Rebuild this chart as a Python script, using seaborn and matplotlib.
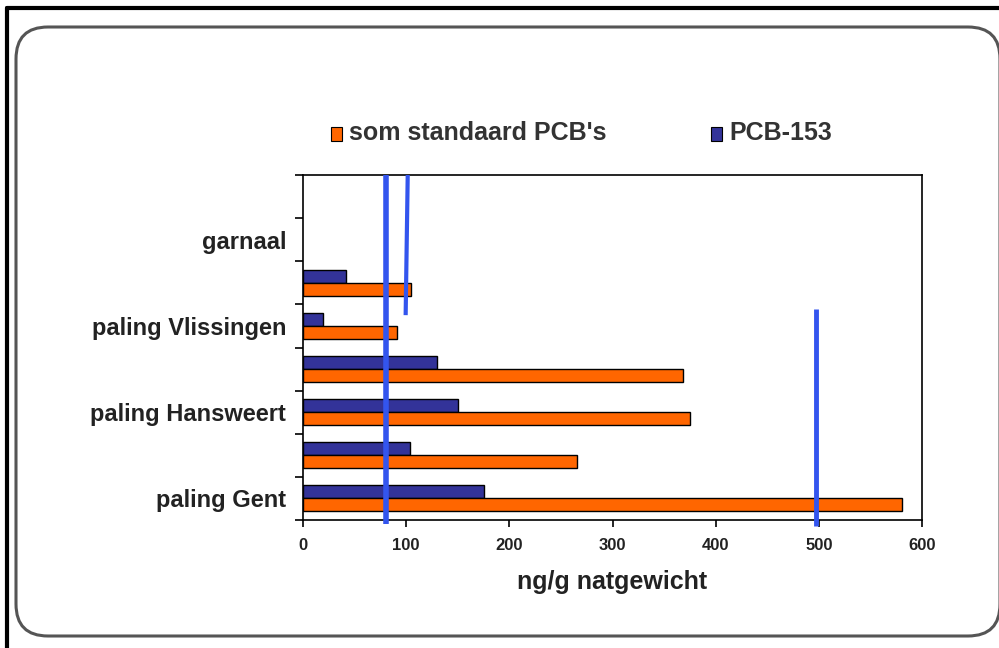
import numpy as np
import pandas as pd
import matplotlib
matplotlib.use('Agg')
import matplotlib.pyplot as plt
import seaborn as sns
from matplotlib.patches import FancyBboxPatch, Rectangle
from matplotlib.lines import Line2D

# Data (top to bottom, as drawn)
categories = ['c8', 'garnaal', 'c6', 'paling Vlissingen', 'c4', 'paling Hansweert', 'c2', 'paling Gent']
tick_labels = ['', 'garnaal', '', 'paling Vlissingen', '', 'paling Hansweert', '', 'paling Gent']
som_pcb = [0, 0, 105, 91, 368, 375, 266, 581]
pcb_153 = [0, 0, 42, 19, 130, 150, 104, 175]
series = ['PCB-153', "som standaard PCB's"]
ref_lines = [80, 100, 500]

df = pd.DataFrame({
    'cat': categories * 2,
    'value': pcb_153 + som_pcb,
    'serie': [series[0]] * len(categories) + [series[1]] * len(categories),
})

sns.set_style('white')
plt.rcParams['font.family'] = ['Liberation Sans', 'DejaVu Sans']

fig = plt.figure(figsize=(9.99, 6.48), dpi=100)

# frame: black outer lines and rounded grey box
fig.add_artist(Line2D([7 / 999, 7 / 999], [0, 1 - 8 / 648], color='black', lw=3, transform=fig.transFigure))
fig.add_artist(Line2D([7 / 999, 1], [1 - 8 / 648, 1 - 8 / 648], color='black', lw=3, transform=fig.transFigure))
box = FancyBboxPatch((16, 648 - 636), 1000 - 16, 636 - 27,
                     boxstyle='round,pad=0,rounding_size=32',
                     transform=None, fc='none', ec='#555555', lw=2.2, zorder=-1)
fig.add_artist(box)

ax = fig.add_axes([303 / 999, 1 - 520 / 648, (922 - 303) / 999, (520 - 175) / 648])
ax.patch.set_alpha(0)
sns.barplot(data=df, x='value', y='cat', hue='serie', order=categories,
            hue_order=series, palette=['#333399', '#ff6600'], orient='h',
            width=0.6, saturation=1, edgecolor='black', linewidth=1, ax=ax, legend=False)
for p in ax.patches:
    if p.get_width() == 0:
        p.set_linewidth(0)

ax.set_xlim(0, 600)
ax.set_ylim(7.5, -0.5)
ax.set_xticks(range(0, 601, 100))
ax.set_xticklabels([str(v) for v in range(0, 601, 100)], fontsize=12, fontweight='bold', color='#222222')
ax.set_yticks(np.arange(-0.5, 8, 1))
ax.set_yticklabels([])
ax.set_yticks(range(len(categories)), minor=True)
ax.set_yticklabels(tick_labels, minor=True, fontsize=17, fontweight='bold', color='#222222')
ax.tick_params(axis='y', which='minor', left=False, length=0, pad=12)
ax.tick_params(axis='y', which='major', left=True, length=6, width=1.2, direction='out', color='black')
ax.tick_params(axis='x', bottom=True, length=5, width=1.2, direction='out', color='black', pad=8)
ax.set_xlabel('ng/g natgewicht', fontsize=18, fontweight='bold', color='#222222', labelpad=12)
ax.set_ylabel('')
for s in ax.spines.values():
    s.set_color('black')
    s.set_linewidth(1.2)

# reference lines
line_col = '#3355ee'
ax.plot([ref_lines[0], ref_lines[0]], [-0.5, 7.6], color=line_col, lw=4,
        solid_capstyle='butt', clip_on=False, zorder=5)
ax.plot([ref_lines[1] + 1.5, ref_lines[1] - 0.5], [-0.5, 2.75], color=line_col, lw=3,
        solid_capstyle='butt', clip_on=False, zorder=5)
ax.plot([ref_lines[2] - 3, ref_lines[2] - 3], [2.6, 7.65], color=line_col, lw=3.5,
        solid_capstyle='butt', clip_on=False, zorder=5)

# legend
fig.add_artist(Rectangle((331 / 999, 1 - 141 / 648), 11 / 999, 14 / 648, transform=fig.transFigure,
                         fc='#ff6600', ec='black', lw=0.8))
fig.text(349 / 999, 1 - 133 / 648, series[1], fontsize=18, fontweight='bold', color='#333333', va='center')
fig.add_artist(Rectangle((711 / 999, 1 - 141 / 648), 11 / 999, 14 / 648, transform=fig.transFigure,
                         fc='#333399', ec='black', lw=0.8))
fig.text(729 / 999, 1 - 133 / 648, series[0], fontsize=18, fontweight='bold', color='#333333', va='center')

fig.savefig('out.png', dpi=100)
